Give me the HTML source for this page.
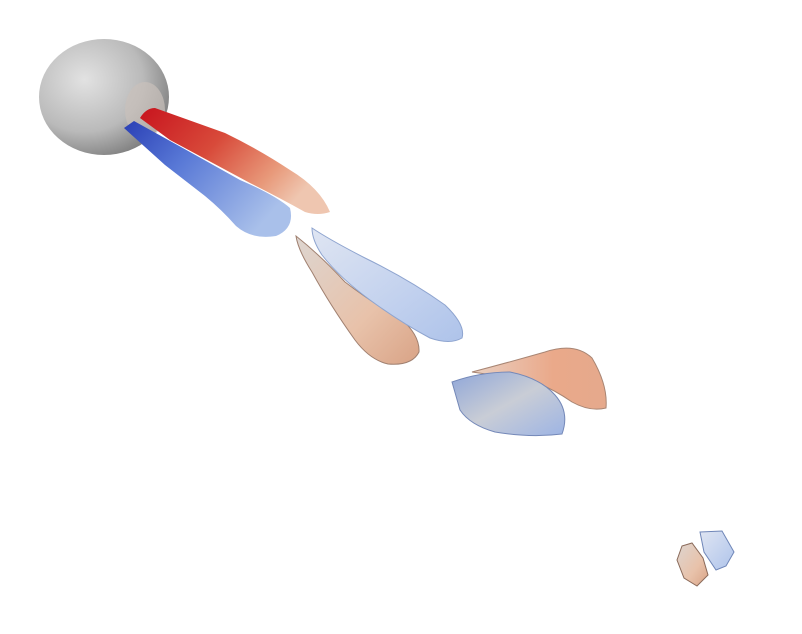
<!DOCTYPE html>
<html>
<head>
<meta charset="utf-8">
<style>
  html, body { margin: 0; padding: 0; background: #ffffff; }
  svg { display: block; }
</style>
</head>
<body>
<svg width="802" height="634" viewBox="0 0 802 634" xmlns="http://www.w3.org/2000/svg">
  <defs>
    <radialGradient id="gSphere" cx="0.35" cy="0.35" r="0.75">
      <stop offset="0" stop-color="#e2e2e2"/>
      <stop offset="0.6" stop-color="#bababa"/>
      <stop offset="1" stop-color="#777777"/>
    </radialGradient>
    <linearGradient id="gRed" x1="0" y1="0" x2="1" y2="0.5">
      <stop offset="0" stop-color="#c8141e"/>
      <stop offset="0.45" stop-color="#d84a3a"/>
      <stop offset="0.8" stop-color="#e8997a"/>
      <stop offset="1" stop-color="#efc6b0"/>
    </linearGradient>
    <linearGradient id="gBlue" x1="0" y1="0" x2="1" y2="0.6">
      <stop offset="0" stop-color="#2a3fb5"/>
      <stop offset="0.4" stop-color="#5878d6"/>
      <stop offset="1" stop-color="#a9c0ea"/>
    </linearGradient>
    <linearGradient id="gSalmon" x1="0" y1="0" x2="1" y2="1">
      <stop offset="0" stop-color="#ddd5d0"/>
      <stop offset="0.6" stop-color="#e8c2aa"/>
      <stop offset="1" stop-color="#d9a386"/>
    </linearGradient>
    <linearGradient id="gLightBlue" x1="0" y1="0" x2="1" y2="1">
      <stop offset="0" stop-color="#dfe5f2"/>
      <stop offset="0.6" stop-color="#c2d1ee"/>
      <stop offset="1" stop-color="#aec3ea"/>
    </linearGradient>
    <linearGradient id="gGrayBlue" x1="0" y1="0" x2="1" y2="1">
      <stop offset="0" stop-color="#8fa6d8"/>
      <stop offset="0.5" stop-color="#c9cdd6"/>
      <stop offset="1" stop-color="#9db4e4"/>
    </linearGradient>
    <linearGradient id="gOrange" x1="0" y1="0" x2="1" y2="0">
      <stop offset="0" stop-color="#e9d0c2"/>
      <stop offset="0.6" stop-color="#eaa98a"/>
      <stop offset="1" stop-color="#e5a98c"/>
    </linearGradient>
  </defs>

  <g>
    <ellipse cx="104" cy="97" rx="65" ry="58" fill="url(#gSphere)"/>
    <ellipse cx="145" cy="110" rx="20" ry="28" fill="#c9c0bb" opacity="0.7"/>
  </g>

  <path
        d="M140,118 Q146,108 155,108 L225,133 Q260,150 290,170 Q320,188 330,212 Q318,216 305,212 Q280,198 250,183 L170,140 Z"
        fill="url(#gRed)"/>

  <path
        d="M124,128 L134,121 L190,152 L240,180 Q275,195 290,208 Q295,228 276,236 Q252,240 236,226 Q222,210 205,196 L165,165 Z"
        fill="url(#gBlue)"/>

  <path
        d="M296,236 Q320,255 345,282 Q375,305 400,318 Q420,335 419,352 Q412,366 388,364 Q370,360 355,340 Q330,305 312,272 Q298,250 296,236 Z"
        fill="url(#gSalmon)" stroke="#a08070" stroke-width="1"/>

  <path
        d="M312,228 Q330,240 365,258 Q410,280 445,305 Q466,325 462,338 Q450,345 430,338 Q400,322 370,300 Q340,278 322,255 Q312,240 312,228 Z"
        fill="url(#gLightBlue)" stroke="#8ea4cf" stroke-width="1"/>

  <path
        d="M472,372 Q510,362 545,352 Q575,342 592,358 Q608,385 606,408 Q590,412 572,402 Q555,390 535,382 L500,376 Z"
        fill="url(#gOrange)" stroke="#a88573" stroke-width="1"/>

  <path
        d="M452,382 Q480,372 510,372 Q540,378 555,395 Q570,412 562,434 Q530,438 495,432 Q470,425 460,410 Z"
        fill="url(#gGrayBlue)" stroke="#7488b8" stroke-width="1"/>

  <path
        d="M682,546 L692,543 L703,558 L708,575 L697,586 L684,578 L677,560 Z"
        fill="url(#gSalmon)" stroke="#8a6a5a" stroke-width="1"/>

  <path
        d="M700,532 L722,531 L734,552 L726,566 L716,570 L704,552 Z"
        fill="url(#gLightBlue)" stroke="#6f86b8" stroke-width="1"/>
</svg>
</body>
</html>
